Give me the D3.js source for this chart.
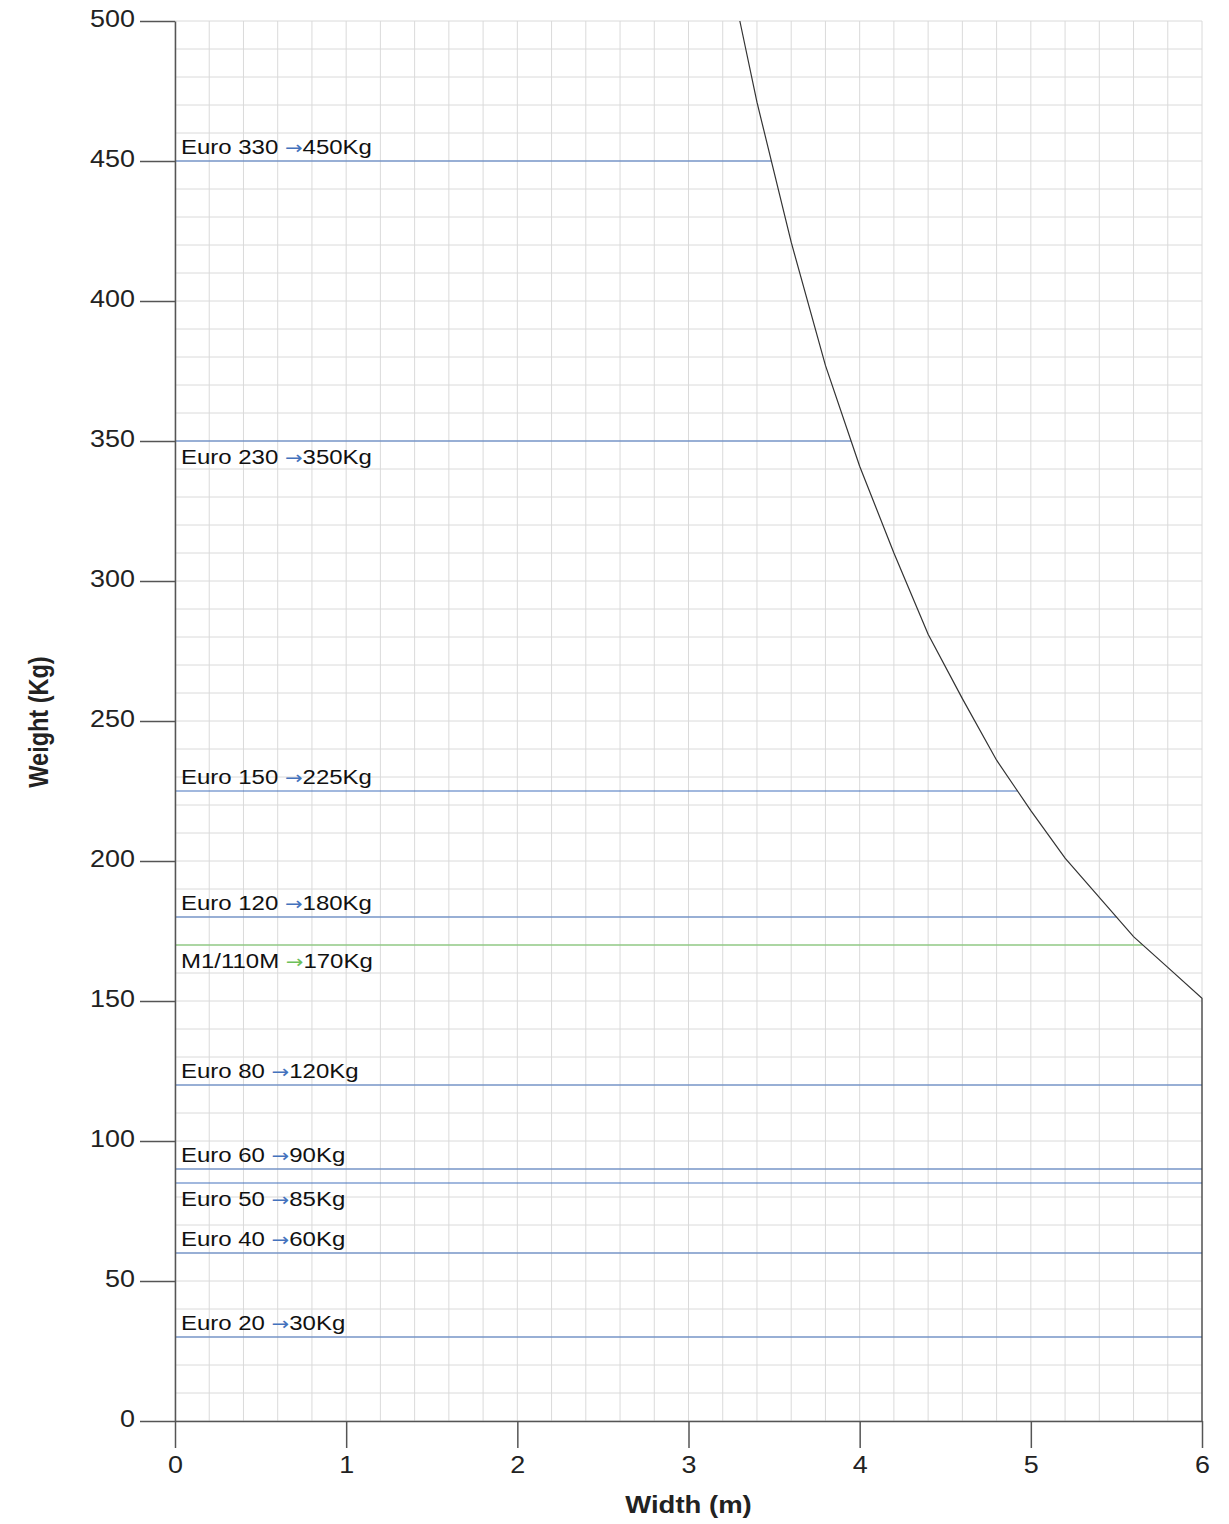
<!DOCTYPE html>
<html>
<head>
<meta charset="utf-8">
<script src="https://cdn.jsdelivr.net/npm/d3@7"></script>
<style>
  body { margin: 0; background: #fff; }
  text { font-family: "Liberation Sans", Arial, sans-serif; }
</style>
</head>
<body>
<div class="canva"></div>
<script>
// pallet types and their max load
const categories = ["Euro 330", "Euro 230", "Euro 150", "Euro 120", "M1/110M", "Euro 80", "Euro 60", "Euro 50", "Euro 40", "Euro 20"]
const loads      = [450, 350, 225, 180, 170, 120, 90, 85, 60, 30]
const labelBelow = [false, true, false, false, true, false, false, true, false, false]
const groups     = ["euro", "euro", "euro", "euro", "m1", "euro", "euro", "euro", "euro", "euro"]

// limit curve (width in m -> weight in Kg)
const curveWidths  = [3.3, 3.4, 3.6, 3.8, 4.0, 4.2, 4.4, 4.6, 4.8, 5.0, 5.2, 5.4, 5.6, 5.8, 6.0, 6.0]
const curveWeights = [500, 471, 421, 377, 341, 310, 281, 258, 236, 218, 201, 187, 173, 162, 151, 0]

const xTicks = [0, 1, 2, 3, 4, 5, 6]
const yTicks = [0, 50, 100, 150, 200, 250, 300, 350, 400, 450, 500]

const W = 1229, H = 1524
const margin = {left: 175, top: 21, right: 27, bottom: 103}
const iw = W - margin.left - margin.right
const ih = H - margin.top - margin.bottom
const stretch = 1.17   // the original text is a bit wide

function group_to_color(g) {
    if (g == "m1") {
        return "#6cc05a"
    }
    return "#4472bd"
}

// x where the curve drops to a given weight
function width_at(weight) {
    for (let i = 0; i < curveWidths.length - 1; i++) {
        let w0 = curveWeights[i], w1 = curveWeights[i + 1]
        if (weight <= w0 && weight >= w1) {
            if (w0 == w1) return curveWidths[i]
            let t = (w0 - weight) / (w0 - w1)
            return curveWidths[i] + t * (curveWidths[i + 1] - curveWidths[i])
        }
    }
    return curveWidths[curveWidths.length - 1]
}

function render() {
    const svg = d3.select('.canva').append('svg')
        .attr('width', W)
        .attr('height', H)

    const x = d3.scaleLinear().domain([0, 6]).range([0, iw])
    const y = d3.scaleLinear().domain([0, 500]).range([ih, 0])

    const g = svg.append('g').attr('transform', `translate(${margin.left},${margin.top})`)

    // minor grid
    g.append('g').selectAll('line')
        .data(d3.range(0, 30 + 1).map(i => i * 0.2))
        .enter().append('line')
        .attr('x1', d => x(d)).attr('x2', d => x(d))
        .attr('y1', 0).attr('y2', ih)
        .attr('stroke', '#dadada').attr('stroke-width', 1)
    g.append('g').selectAll('line')
        .data(d3.range(0, 50 + 1).map(i => i * 10))
        .enter().append('line')
        .attr('x1', 0).attr('x2', iw)
        .attr('y1', d => y(d)).attr('y2', d => y(d))
        .attr('stroke', '#dadada').attr('stroke-width', 1)

    const rows = categories.map((c, i) => ({
        name: c, load: loads[i], below: labelBelow[i], group: groups[i]
    }))

    // load lines, stopping at the curve
    g.append('g').selectAll('line')
        .data(rows)
        .enter().append('line')
        .attr('x1', 0)
        .attr('x2', d => x(width_at(d.load)))
        .attr('y1', d => y(d.load)).attr('y2', d => y(d.load))
        .attr('stroke', d => group_to_color(d.group))
        .attr('stroke-width', 1.2)

    // limit curve
    const line = d3.line().x(d => x(d[0])).y(d => y(d[1]))
    g.append('path')
        .datum(curveWidths.map((w, i) => [w, curveWeights[i]]))
        .attr('d', line)
        .attr('fill', 'none')
        .attr('stroke', '#333')
        .attr('stroke-width', 1.2)

    // labels
    const lab = g.append('g').selectAll('text')
        .data(rows)
        .enter().append('text')
        .attr('transform', d => `translate(6,${d.below ? y(d.load) + 23 : y(d.load) - 7}) scale(${stretch},1)`)
        .attr('font-size', 20.5)
        .attr('fill', '#111')
    lab.append('tspan').text(d => d.name + ' ')
    lab.append('tspan').text('\u2192')
        .attr('font-family', '"DejaVu Sans", sans-serif')
        .attr('font-size', 18)
        .attr('fill', d => group_to_color(d.group))
    lab.append('tspan').text(d => d.load + 'Kg')

    // axes
    const xAxis = d3.axisBottom(x).tickValues(xTicks).tickFormat(d3.format('d'))
        .tickSize(27).tickSizeOuter(0).tickPadding(9)
    const yAxis = d3.axisLeft(y).tickValues(yTicks).tickFormat(d3.format('d'))
        .tickSize(35).tickSizeOuter(0).tickPadding(5)

    const gx = g.append('g').attr('transform', `translate(0,${ih})`).call(xAxis)
    const gy = g.append('g').call(yAxis)
    for (const a of [gx, gy]) {
        a.selectAll('path, line').attr('stroke', '#555').attr('stroke-width', 1.5)
        a.selectAll('text').attr('font-size', 23).attr('fill', '#222')
            .attr('font-family', '"Liberation Sans", Arial, sans-serif')
    }
    // widen tick labels around their anchor
    gy.selectAll('.tick text').attr('x', 0).attr('dy', '0.25em')
        .attr('transform', `translate(-40,0) scale(${stretch},1)`)
    gx.selectAll('.tick text').attr('transform', `scale(${stretch},1)`)

    svg.append('text')
        .attr('transform', `translate(${margin.left + iw / 2},1513) scale(${stretch},1)`)
        .attr('text-anchor', 'middle')
        .attr('font-size', 23.5).attr('font-weight', 'bold').attr('fill', '#222')
        .text('Width (m)')
    svg.append('text')
        .attr('transform', `translate(48,722) scale(${stretch},1) rotate(-90)`)
        .attr('text-anchor', 'middle')
        .attr('font-size', 23.5).attr('font-weight', 'bold').attr('fill', '#222')
        .text('Weight (Kg)')
}

render()
</script>
</body>
</html>
